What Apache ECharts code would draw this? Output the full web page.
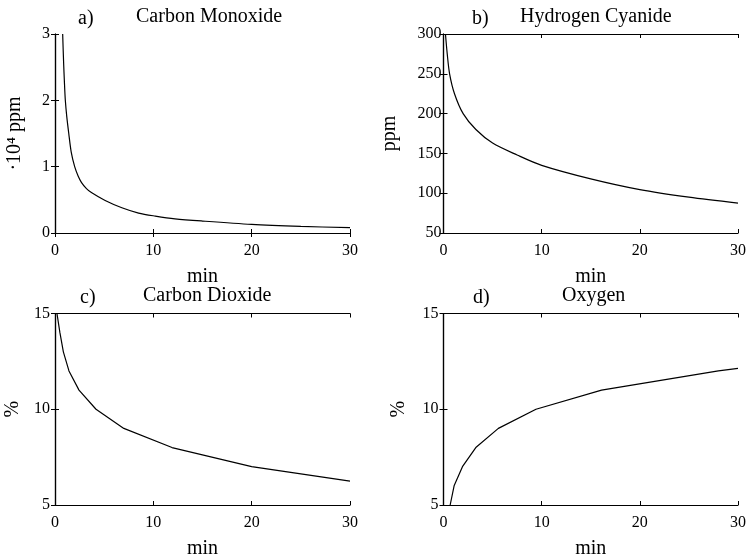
<!DOCTYPE html>
<html>
<head>
<meta charset="utf-8">
<script src="https://cdn.jsdelivr.net/npm/echarts@6/dist/echarts.min.js"></script>
<style>
    html, body { margin: 0; padding: 0; background: #fff; }
    #main { width: 749px; height: 560px; }
</style>
</head>
<body>
<div id="main"></div>
<script>
// a) carbon monoxide, 10^4 ppm
const coTime = [0.78, 0.88, 0.95, 1.05, 1.2, 1.4, 1.65, 2.0, 2.35, 2.7, 3.2, 3.7, 5.1, 6.8, 8.5, 10.2, 12.2, 15, 20, 25, 30];
const coValue = [3.0, 2.55, 2.3, 2.0, 1.75, 1.5, 1.22, 1.0, 0.86, 0.76, 0.67, 0.61, 0.49, 0.38, 0.30, 0.255, 0.214, 0.18, 0.13, 0.10, 0.08];
// b) hydrogen cyanide, ppm
const hcnTime = [0.2, 0.38, 0.62, 1.12, 2.0, 3.3, 5.0, 7.5, 10, 15, 20, 25, 30];
const hcnValue = [300, 275, 250, 225, 200, 180, 163, 148, 135, 118, 104.5, 95, 87.5];
// c) carbon dioxide, %
const co2Time = [0.2, 0.5, 0.85, 1.42, 2.44, 4.17, 7.0, 11.9, 20, 30];
const co2Value = [15, 14, 13, 12, 11, 10, 9, 8, 7, 6.25];
// d) oxygen, %
const o2Time = [0.68, 1.08, 1.93, 3.29, 5.59, 9.42, 16.1, 28, 30];
const o2Value = [5, 6, 7, 8, 9, 10, 11, 12, 12.13];

const titles = ['Carbon Monoxide', 'Hydrogen Cyanide', 'Carbon Dioxide', 'Oxygen'];
const letters = ['a)', 'b)', 'c)', 'd)'];
const yNames = ['·10⁴ ppm', 'ppm', '%', '%'];
const yRanges = [[0, 3, 1], [50, 300, 50], [5, 15, 5], [5, 15, 5]];

window.onload = function () {
    let chart = echarts.init(document.getElementById('main'));
    const font = '"Liberation Serif", "Times New Roman", serif';

    let grids = [
        { left: 55, top: 34, width: 295, height: 199 },
        { left: 443.5, top: 34, width: 295, height: 199 },
        { left: 55, top: 313.5, width: 295, height: 199 },
        { left: 443.5, top: 313.5, width: 295, height: 199 }
    ];
    let titleLeft = [136, 520, 143, 562];
    let letterLeft = [78, 472, 80, 473];
    let titleTop = [7, 7, 286, 286];
    let yNameGap = [30, 44, 32, 35];
    let yLabelMargin = [5, 2, 5, 5];

    let data = [
        coTime.map((t, i) => [t, coValue[i]]),
        hcnTime.map((t, i) => [t, hcnValue[i]]),
        co2Time.map((t, i) => [t, co2Value[i]]),
        o2Time.map((t, i) => [t, o2Value[i]])
    ];

    let title = [], xAxis = [], yAxis = [], series = [];
    for (let i = 0; i < 4; i++) {
        title.push({
            text: titles[i], left: titleLeft[i], top: titleTop[i], padding: 0,
            textStyle: { fontFamily: font, fontSize: 20, fontWeight: 'normal', color: '#000' }
        });
        title.push({
            text: letters[i], left: letterLeft[i], top: titleTop[i] + 2, padding: 0,
            textStyle: { fontFamily: font, fontSize: 20, fontWeight: 'normal', color: '#000' }
        });

        let line = { show: true, lineStyle: { color: '#000', width: 1.2 } };
        let tick = { show: true, inside: true, length: 4, lineStyle: { color: '#000' } };
        // bottom x axis with labels
        xAxis.push({
            gridIndex: i, type: 'value', min: 0, max: 30, interval: 10, position: 'bottom',
            name: 'min', nameLocation: 'middle', nameGap: 34,
            nameTextStyle: { fontFamily: font, fontSize: 20, color: '#000' },
            axisLine: line, axisTick: tick, splitLine: { show: false },
            axisLabel: { fontFamily: font, fontSize: 16, color: '#000', margin: 10 }
        });
        // top x axis, ticks only
        xAxis.push({
            gridIndex: i, type: 'value', min: 0, max: 30, interval: 10, position: 'top',
            axisLine: line, axisTick: tick, splitLine: { show: false }, axisLabel: { show: false }
        });
        let r = yRanges[i];
        yAxis.push({
            gridIndex: i, type: 'value', min: r[0], max: r[1], interval: r[2], position: 'left',
            name: yNames[i], nameLocation: 'middle', nameGap: yNameGap[i], nameRotate: 90,
            nameTextStyle: { fontFamily: font, fontSize: 20, color: '#000' },
            axisLine: line, axisTick: tick, splitLine: { show: false },
            axisLabel: { fontFamily: font, fontSize: 16, color: '#000', margin: yLabelMargin[i] }
        });
        yAxis.push({
            gridIndex: i, type: 'value', min: r[0], max: r[1], interval: r[2], position: 'right',
            axisLine: line, axisTick: tick, splitLine: { show: false }, axisLabel: { show: false }
        });

        series.push({
            type: 'line',
            xAxisIndex: i * 2,
            yAxisIndex: i * 2,
            data: data[i],
            showSymbol: false,
            smooth: i < 2 ? 0.3 : false,
            lineStyle: { color: '#000', width: 1.2 }
        });
    }

    let option = {
        animation: false,
        backgroundColor: '#fff',
        title: title,
        grid: grids,
        xAxis: xAxis,
        yAxis: yAxis,
        series: series
    };
    chart.setOption(option);
}
</script>
</body>
</html>
